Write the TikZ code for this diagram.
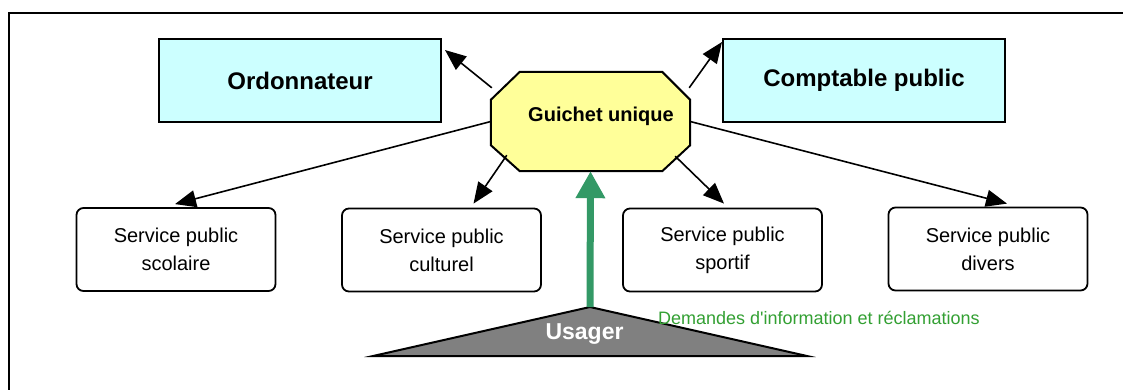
\documentclass[tikz,border=0pt]{standalone}
\usepackage{fontspec}
\setmainfont{Liberation Sans}
\usetikzlibrary{arrows.meta,calc}
\definecolor{cyanfill}{HTML}{CCFFFF}
\definecolor{yellowfill}{HTML}{FFFF99}
\definecolor{usagergray}{HTML}{808080}
\definecolor{arrowgreen}{HTML}{339966}
\definecolor{textgreen}{HTML}{33A033}
\tikzset{
  topbox/.style={draw=black, line width=2pt, fill=cyanfill, minimum width=282pt, minimum height=83pt, inner sep=0pt, font=\bfseries\fontsize{24}{28}\selectfont},
  servicebox/.style={draw=black, line width=1.8pt, rounded corners=7pt, fill=white, minimum width=199pt, minimum height=83pt, inner sep=0pt, align=center, font=\fontsize{20}{28}\selectfont},
  blackarrow/.style={line width=1.6pt, -{Triangle[length=21pt,width=17pt]}},
  greenarrow/.style={draw=arrowgreen, line width=7pt, -{Triangle[length=27pt,width=28pt]}},
}
\begin{document}
\begin{tikzpicture}[x=1pt,y=-1pt]
\useasboundingbox (0,0) rectangle (1123,389);
\clip (0,0) rectangle (1123,389);
\fill[white] (0,0) rectangle (1123,389);
% outer frame (open to the right and bottom)
\draw[line width=2pt] (9,13) rectangle (1160,430);

% top boxes
\node[topbox] (ord) at (300,80.5) {Ordonnateur};
\node[topbox] (comp) at (864,80.5) {Comptable public};

% guichet unique octagon
\node[minimum width=199pt, minimum height=99pt, inner sep=0pt] (g) at (590.5,121.5) {};
\draw[line width=2pt, fill=yellowfill]
  ($(g.north west)+(29,0)$) -- ($(g.north east)+(-28,0)$) -- ($(g.north east)+(0,28)$)
  -- ($(g.south east)+(0,-26)$) -- ($(g.south east)+(-28,0)$) -- ($(g.south west)+(29,0)$)
  -- ($(g.south west)+(0,-26)$) -- ($(g.north west)+(0,28)$) -- cycle;
\node[anchor=base, font=\bfseries\fontsize{20}{24}\selectfont, inner sep=0pt] (gt) at (601,121) {Guichet unique};

% service boxes
\node[servicebox] (scol) at (176,249.5) {Service public\\scolaire};
\node[servicebox] (cult) at (441.5,250) {Service public\\culturel};
\node[servicebox] (sport) at (722.5,250) {Service public\\sportif};
\node[servicebox] (div) at (988,249) {Service public\\divers};

% black arrows
\draw[blackarrow] ($(g.north west)+(1,16)$) -- ($(ord.north east)+(3,12)$);
\draw[blackarrow] ($(g.north east)+(-1,16)$) -- ($(comp.north west)+(0,4)$);
\draw[blackarrow] (g.west) -- ($(scol.north)+(-1,-3)$);
\draw[blackarrow] ($(g.south west)+(16,-16)$) -- ($(cult.north)+(32,-4)$);
\draw[blackarrow] ($(g.south east)+(-15,-15)$) -- ($(sport.north)+(1.5,-4)$);
\draw[blackarrow] (g.east) -- ($(div.north)+(19,-3)$);

% usager triangle
\coordinate (uapex) at (590,307);
\coordinate (uleft) at (373,356);
\coordinate (uright) at (807,356);
\draw[line width=2pt, fill=usagergray, line join=miter] (uleft) -- (uapex) -- (uright) -- cycle;
\node[anchor=base, text=white, font=\bfseries\fontsize{23}{26}\selectfont, inner sep=0pt] (ut) at (584.5,339) {Usager};

% green arrow
\draw[greenarrow] (uapex) -- (g.south);
\node[anchor=base west, text=textgreen, font=\fontsize{18}{20}\selectfont, inner sep=0pt] (dem) at (658,324) {Demandes d\textquotesingle information et réclamations};
\end{tikzpicture}
\end{document}
